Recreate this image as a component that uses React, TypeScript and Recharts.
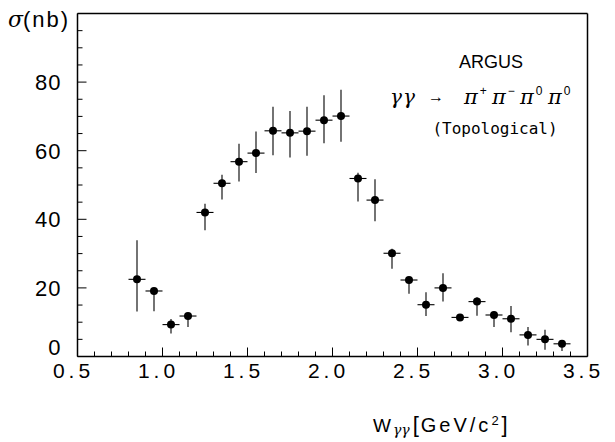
import React from 'react';
import { ScatterChart, Scatter, XAxis, YAxis, ErrorBar } from 'recharts';

// bin centres in W_gg (GeV/c^2) and measured cross sections (nb)
const wBins = [0.85, 0.95, 1.05, 1.15, 1.25, 1.35, 1.45, 1.55, 1.65, 1.75, 1.85, 1.95, 2.05,
  2.15, 2.25, 2.35, 2.45, 2.55, 2.65, 2.75, 2.85, 2.95, 3.05, 3.15, 3.25, 3.35];
const sigma = [22.5, 19.1, 9.3, 11.8, 42, 50.5, 56.8, 59.3, 65.8, 65.2, 65.7, 68.9, 70.1,
  51.9, 45.6, 30.1, 22.3, 15.1, 20, 11.4, 16, 12.1, 11, 6.3, 5, 3.7];
const sigmaHigh = [33.9, 20, 10.9, 12.6, 44.5, 53, 62, 65.6, 72.8, 71.6, 72.8, 76.2, 77.8,
  53.6, 51.7, 31.4, 23.1, 18.7, 24.3, 12.2, 17.3, 13.1, 14.7, 8.6, 7.8, 4.8];
const sigmaLow = [13.1, 13.2, 6.7, 8.6, 36.8, 45.8, 51, 53.5, 58.7, 58, 58.5, 62.2, 62.6,
  45.2, 39.4, 25.6, 18.3, 11.8, 16, 10.7, 11.9, 8.6, 7.1, 3.2, 2, 1.6];
const binHalfWidth = 0.05;

const xTicks = [0.5, 0.6, 0.7, 0.8, 0.9, 1.0, 1.1, 1.2, 1.3, 1.4, 1.5, 1.6, 1.7, 1.8, 1.9, 2.0,
  2.1, 2.2, 2.3, 2.4, 2.5, 2.6, 2.7, 2.8, 2.9, 3.0, 3.1, 3.2, 3.3, 3.4, 3.5];
const xLabels = ['0.5', '1.0', '1.5', '2.0', '2.5', '3.0', '3.5'];
const yTicks = [0, 5, 10, 15, 20, 25, 30, 35, 40, 45, 50, 55, 60, 65, 70, 75, 80, 85, 90, 95, 100];
const yLabels = [0, 20, 40, 60, 80];
const pionCharges = ['+', '−', '0', '0'];

const data = wBins.map((w, i) => ({
  w,
  s: sigma[i],
  errY: [sigma[i] - sigmaLow[i], sigmaHigh[i] - sigma[i]],
  errX: binHalfWidth,
}));

const FONT = 'Liberation Sans, Arial, sans-serif';

const BottomTick = (props: any) => {
  const { x, y, payload } = props;
  const label = Number(payload.value).toFixed(1);
  const major = xLabels.includes(label);
  return (
    <g>
      <line x1={x} x2={x} y1={y} y2={y - (major ? 9 : 5)} stroke="#000" strokeWidth={1} />
      {major && (
        <text x={x - 4} y={y + 21} textAnchor="middle" fontSize={21} letterSpacing={4}
          fontFamily={FONT} fill="#000">{label}</text>
      )}
    </g>
  );
};

const TopTick = (props: any) => {
  const { x, y, payload } = props;
  const major = xLabels.includes(Number(payload.value).toFixed(1));
  return <line x1={x} x2={x} y1={y} y2={y + (major ? 9 : 5)} stroke="#000" strokeWidth={1} />;
};

const LeftTick = (props: any) => {
  const { x, y, payload } = props;
  const v = payload.value;
  const major = v % 20 === 0;
  return (
    <g>
      <line x1={x} x2={x + (major ? 9 : 5)} y1={y} y2={y} stroke="#000" strokeWidth={1} />
      {yLabels.includes(v) && (
        <text x={x - 16} y={y + (v === 0 ? -2 : 8)} textAnchor="end" fontSize={22} letterSpacing={1}
          fontFamily={FONT} fill="#000">{v}</text>
      )}
    </g>
  );
};

const RightTick = (props: any) => {
  const { x, y, payload } = props;
  const major = payload.value % 20 === 0;
  return <line x1={x} x2={x - (major ? 9 : 5)} y1={y} y2={y} stroke="#000" strokeWidth={1} />;
};

const Dot = (props: any) => <circle cx={props.cx} cy={props.cy} r={4} fill="#000" />;

export default function App() {
  return (
    <div style={{ position: 'absolute', left: 0, top: 0, width: 615, height: 442, background: '#fff' }}>
      <ScatterChart width={615} height={442} margin={{ top: 3.5, right: 17.5, bottom: 55.5, left: 17.5 }}>
        <XAxis xAxisId="b" dataKey="w" type="number" domain={[0.5, 3.5]} ticks={xTicks} interval={0}
          tickSize={0} tickMargin={0} height={30} tickLine={false} tick={<BottomTick />}
          axisLine={{ stroke: '#000', strokeWidth: 1.5 }} />
        <XAxis xAxisId="t" orientation="top" dataKey="w" type="number" domain={[0.5, 3.5]} ticks={xTicks}
          interval={0} tickSize={0} tickMargin={0} height={10} tickLine={false} tick={<TopTick />}
          axisLine={{ stroke: '#000', strokeWidth: 1.5 }} />
        <YAxis yAxisId="l" dataKey="s" type="number" domain={[0, 100]} ticks={yTicks} interval={0}
          tickSize={0} tickMargin={0} width={60} tickLine={false} tick={<LeftTick />}
          axisLine={{ stroke: '#000', strokeWidth: 1.5 }} />
        <YAxis yAxisId="r" orientation="right" dataKey="s" type="number" domain={[0, 100]} ticks={yTicks}
          interval={0} tickSize={0} tickMargin={0} width={10} tickLine={false} tick={<RightTick />}
          axisLine={{ stroke: '#000', strokeWidth: 1.5 }} />
        <Scatter xAxisId="b" yAxisId="l" data={data} dataKey="s" fill="#000" shape={<Dot />}
          isAnimationActive={false}>
          <ErrorBar dataKey="errY" direction="y" width={0} stroke="#000" strokeWidth={1.1} />
          <ErrorBar dataKey="errX" direction="x" width={0} stroke="#000" strokeWidth={1.1} />
        </Scatter>
      </ScatterChart>
      <svg width={615} height={442} style={{ position: 'absolute', left: 0, top: 0, pointerEvents: 'none' }}>
        <text x={8} y={27} fontSize={22} fontFamily={FONT} fill="#000">
          <tspan fontFamily="DejaVu Serif" fontStyle="italic">σ</tspan>
          <tspan letterSpacing={2}>(nb)</tspan>
        </text>
        <text x={491} y={68} textAnchor="middle" fontSize={18} fontFamily={FONT} fill="#000">ARGUS</text>
        <text x={390} y={104} fontSize={20} fontFamily="DejaVu Serif" fontStyle="italic" fill="#000"
          letterSpacing={1}>γγ</text>
        <text x={428} y={102} fontSize={16} fontFamily={FONT} fill="#000">→</text>
        {pionCharges.map((c, i) => (
          <text key={i} x={464 + i * 28} y={104} fontSize={21} fontFamily="DejaVu Serif" fontStyle="italic"
            fill="#000">
            π<tspan dx={2} dy={-9} fontSize={12} fontStyle="normal" fontFamily={FONT}>{c}</tspan>
          </text>
        ))}
        <text x={495} y={134} textAnchor="middle" fontSize={16} fontFamily="DejaVu Sans Mono" fill="#000">
          (Topological)
        </text>
        <text x={373} y={432} fontSize={19} fontFamily={FONT} fill="#000">
          <tspan>W</tspan>
          <tspan dx={2} dy={3} fontSize={14} fontFamily="DejaVu Serif" fontStyle="italic">γγ</tspan>
          <tspan dy={-3} dx={3} fontSize={22} letterSpacing={2}>[</tspan>
          <tspan fontSize={20} letterSpacing={3}>GeV/c</tspan>
          <tspan dy={-7} fontSize={13}>2</tspan>
          <tspan dy={7} dx={3} fontSize={22}>]</tspan>
        </text>
      </svg>
    </div>
  );
}
